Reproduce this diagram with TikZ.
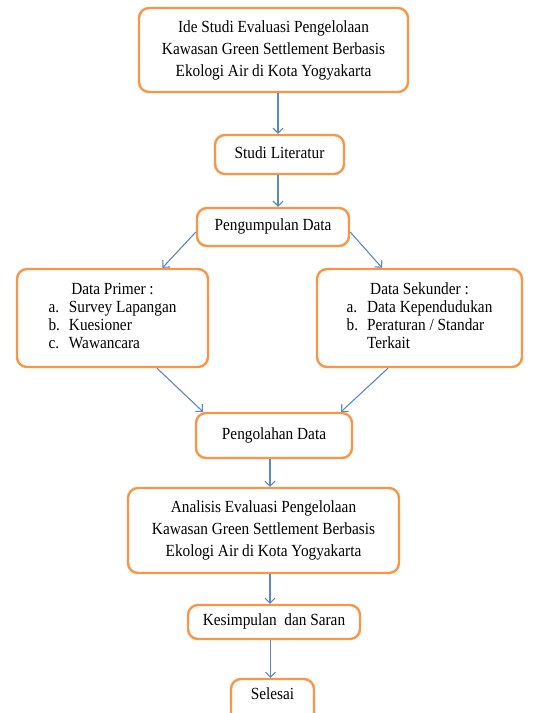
\documentclass[tikz,border=0pt]{standalone}
\usepackage{fontspec}
\setmainfont{Liberation Serif}[FakeStretch=0.9]
\usetikzlibrary{arrows.meta}
\definecolor{boxorange}{HTML}{F79646}
\definecolor{arrowblue}{HTML}{5B87C5}
\begin{document}
\begin{tikzpicture}[x=1pt,y=-1pt,
  box/.style={draw=boxorange,line width=2.4pt,rounded corners=10pt,fill=white,inner sep=0pt,align=center,font=\fontsize{17}{22}\selectfont},
  onebox/.style={box,text height=12pt,text depth=5pt},
  arr/.style={draw=arrowblue,line width=1.1pt,-{Straight Barb[length=5pt,width=10pt,line width=1.1pt]}}]
\clip (0,0) rectangle (539,713);
\node[box,minimum width=269pt,minimum height=84pt] (b1) at (273.5,50) {Ide Studi Evaluasi Pengelolaan\\Kawasan Green Settlement Berbasis\\Ekologi Air di Kota Yogyakarta};
\node[onebox,minimum width=129pt,minimum height=39pt] (studi) at (279.5,154.5) {Studi Literatur};
\node[onebox,minimum width=152pt,minimum height=38pt] (pg) at (273,227) {Pengumpulan Data};
\node[box,minimum width=191pt,minimum height=98pt] (pri) at (112.5,318) {\fontsize{17}{18}\selectfont\begin{tabular}{@{}l@{\hspace{9pt}}l@{}}\multicolumn{2}{c}{Data Primer :}\\a. & Survey Lapangan\\b. & Kuesioner\\c. & Wawancara\end{tabular}};
\node[box,minimum width=205pt,minimum height=98pt] (sek) at (419.5,318) {\fontsize{17}{18}\selectfont\begin{tabular}{@{}l@{\hspace{9pt}}l@{}}\multicolumn{2}{c}{Data Sekunder :}\\a. & Data Kependudukan\\b. & Peraturan / Standar\\ & Terkait\end{tabular}};
\node[onebox,minimum width=156pt,minimum height=45pt] (po) at (274,435.5) {Pengolahan Data};
\node[box,minimum width=271pt,minimum height=85pt] (an) at (263.5,530.5) {Analisis Evaluasi Pengelolaan\\Kawasan Green Settlement Berbasis\\Ekologi Air di Kota Yogyakarta};
\node[onebox,minimum width=172pt,minimum height=34pt] (kes) at (274,622) {Kesimpulan\ \ dan Saran};
\node[box,text height=12pt,text depth=16pt,minimum width=83pt,minimum height=44pt] (sel) at (272.5,701) {Selesai};
\draw[arr] ([xshift=-1.5pt]studi.north |- b1.south) -- ([xshift=-1.5pt]studi.north);
\draw[arr] ([xshift=-1.5pt]studi.south) -- ([xshift=-1.5pt]studi.south |- pg.north);
\draw[arr] ([yshift=-5pt]pg.west) -- ([xshift=50pt]pri.north);
\draw[arr] ([yshift=-5pt]pg.east) -- ([xshift=-37.5pt]sek.north);
\draw[arr] ([xshift=44.5pt]pri.south) -- ([xshift=-71pt]po.north);
\draw[arr] ([xshift=-31.5pt]sek.south) -- ([xshift=67pt]po.north);
\draw[arr] ([xshift=-4pt]po.south) -- ([xshift=-4pt]po.south |- an.north);
\draw[arr] ([xshift=6.5pt]an.south) -- ([xshift=6.5pt]an.south |- kes.north);
\draw[arr] ([xshift=-3.5pt]kes.south) -- ([xshift=-3.5pt]kes.south |- sel.north);
\end{tikzpicture}
\end{document}
